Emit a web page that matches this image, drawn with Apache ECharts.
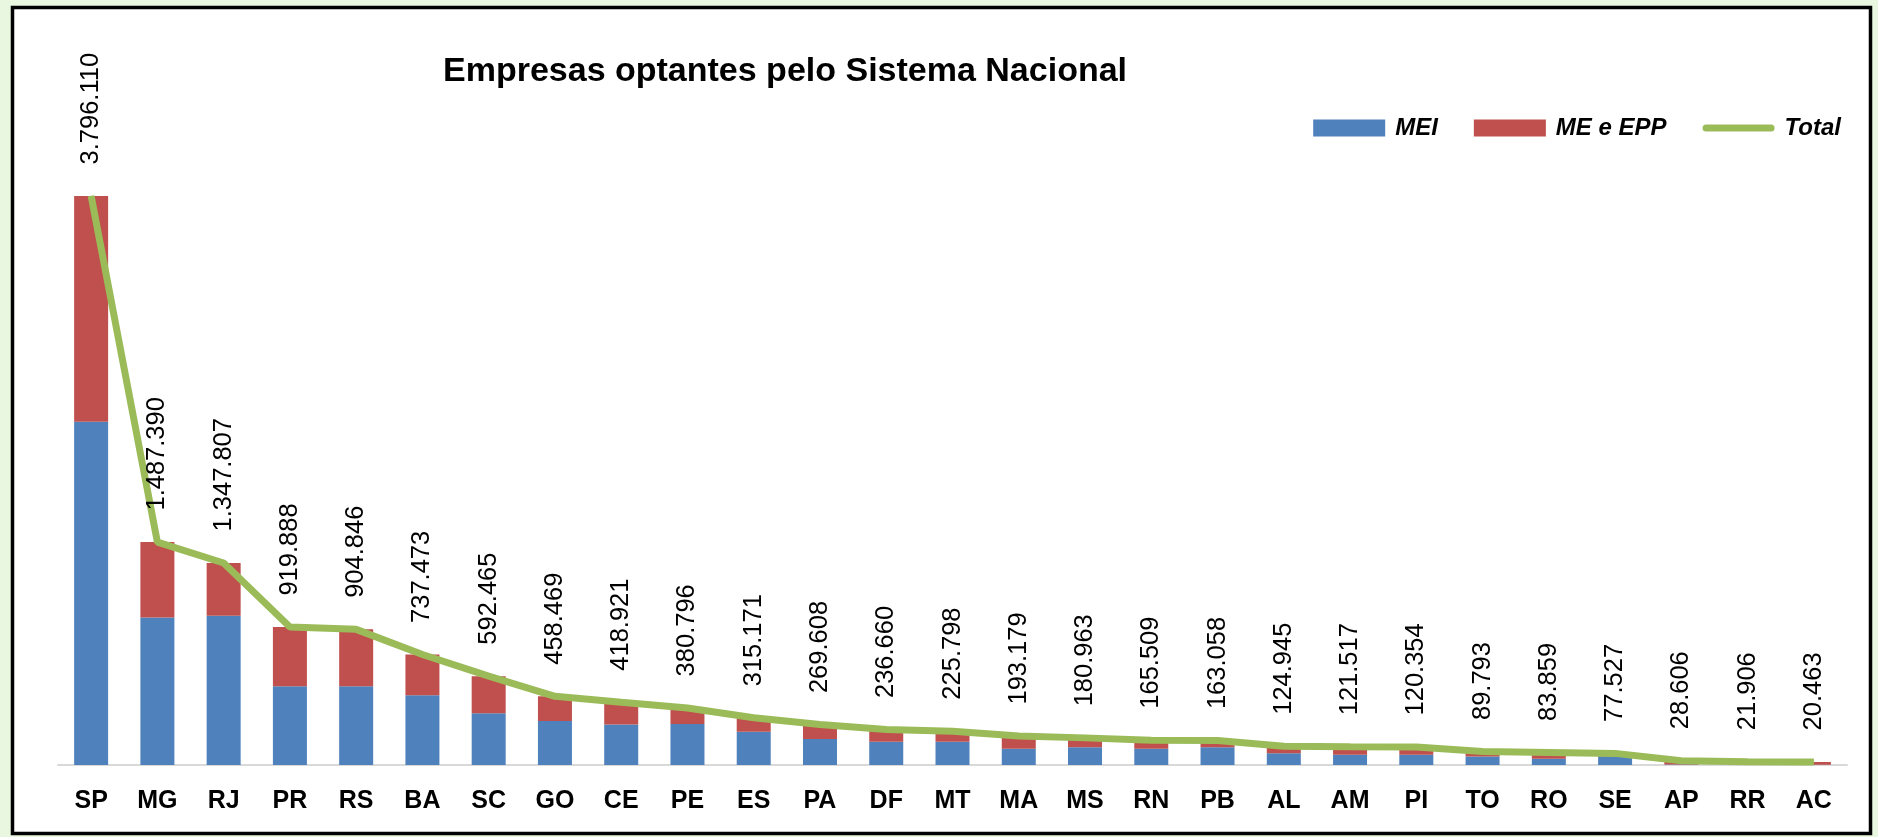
<!DOCTYPE html>
<html>
<head>
<meta charset="utf-8">
<script src="https://cdn.jsdelivr.net/npm/echarts@6/dist/echarts.min.js"></script>
<style>
html,body{margin:0;padding:0;background:#eaf7e0;}
#chart{width:1878px;height:837px;}
</style>
</head>
<body>
<div id="chart"></div>
<script>
const categories = ['SP','MG','RJ','PR','RS','BA','SC','GO','CE','PE','ES','PA','DF','MT','MA','MS','RN','PB','AL','AM','PI','TO','RO','SE','AP','RR','AC'];
const totals = [3796110,1487390,1347807,919888,904846,737473,592465,458469,418921,380796,315171,269608,236660,225798,193179,180963,165509,163058,124945,121517,120354,89793,83859,77527,28606,21906,20463];
const mei = [2290000,984000,996000,525000,525000,465000,345000,294000,271000,274000,222000,173000,155000,155000,108000,119000,108000,119000,78000,69000,69000,56000,42000,58000,4000,3000,2000];
const meEpp = [1506110,503390,351807,394888,379846,272473,247465,164469,147921,106796,93171,96608,81660,70798,85179,61963,57509,44058,46945,52517,51354,33793,41859,19527,24606,18906,18463];
const titleText = 'Empresas optantes pelo Sistema Nacional';

const FONT = "'Liberation Sans',Arial,sans-serif";
const fmt = v => String(v).replace(/\B(?=(\d{3})+(?!\d))/g, '.');

const chart = echarts.init(document.getElementById('chart'), null, {renderer:'canvas'});
chart.setOption({
  backgroundColor: 'transparent',
  animation: false,
  graphic: [{
    type: 'rect', z: -10, silent: true,
    shape: {x: 12.5, y: 7.5, width: 1858, height: 826},
    style: {fill: '#ffffff', stroke: '#000000', lineWidth: 3.5}
  }],
  title: {
    text: titleText,
    left: 443, top: 55, padding: 0,
    textStyle: {fontFamily: FONT, fontWeight: 'bold', fontSize: 34, color: '#000'}
  },
  legend: {
    right: 37, top: 116, padding: 0,
    itemWidth: 72, itemHeight: 17, itemGap: 36,
    textStyle: {fontFamily: FONT, fontWeight: 'bold', fontStyle: 'italic', fontSize: 24, color: '#000', padding: [0,0,0,5]},
    data: [
      {name: 'MEI', icon: 'rect'},
      {name: 'ME e EPP', icon: 'rect'},
      {name: 'Total', icon: 'path://M3.5,0 H68.5 A3.5,3.5 0 0 1 68.5,7 H3.5 A3.5,3.5 0 0 1 3.5,0 Z'}
    ]
  },
  grid: {left: 58, right: 31, top: 165.4, bottom: 72},
  xAxis: {
    type: 'category', data: categories,
    axisLine: {lineStyle: {color: '#d9d9d9', width: 2}},
    axisTick: {show: false},
    axisLabel: {margin: 24, fontFamily: FONT, fontWeight: 'bold', fontSize: 25, color: '#000', interval: 0}
  },
  yAxis: {type: 'value', min: 0, max: 4000000, show: false, splitLine: {show: false}},
  series: [
    {name: 'MEI', type: 'bar', stack: 'a', data: mei, barWidth: 34, itemStyle: {color: '#4F81BD'}},
    {name: 'ME e EPP', type: 'bar', stack: 'a', data: meEpp, barWidth: 34, itemStyle: {color: '#C0504D'}},
    {name: 'Total', type: 'line', data: totals, symbol: 'circle', symbolSize: 1,
     itemStyle: {color: '#9BBB59'}, lineStyle: {color: '#9BBB59', width: 7},
     label: {show: true, position: 'top', distance: 31, rotate: 90, align: 'left', verticalAlign: 'middle',
       fontFamily: FONT, fontSize: 25.5, color: '#000', formatter: p => fmt(p.value)}}
  ]
});
</script>
</body>
</html>
